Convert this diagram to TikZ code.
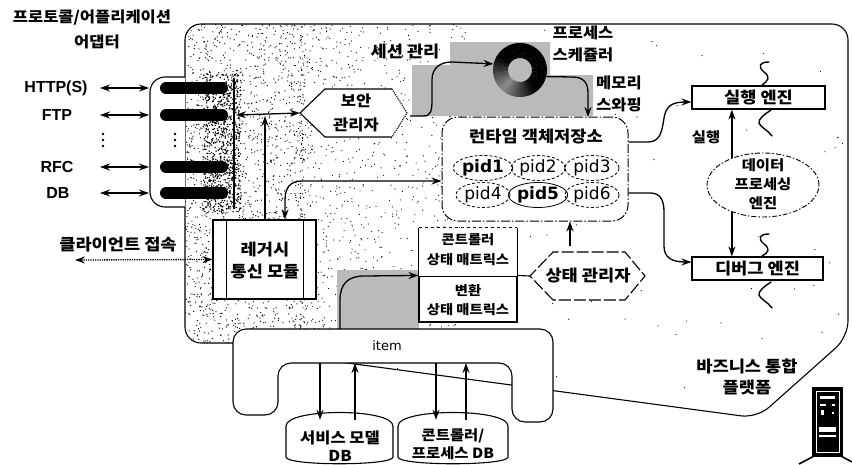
\documentclass[tikz,border=0pt]{standalone}
\usepackage{fontspec}
\setmainfont{Liberation Sans}
\newfontfamily\kr{Noto Sans CJK KR}[FakeStretch=1.1]
\newfontfamily\dv{DejaVu Sans}
\usetikzlibrary{arrows.meta,shapes.geometric,calc}

\begin{document}
\begin{tikzpicture}[x=1pt,y=-1pt,
  ko/.style 2 args={inner sep=0pt, align=center, font=\kr\bfseries\fontsize{#1}{#2}\selectfont},
  la/.style={inner sep=0pt, font=\bfseries\fontsize{16}{18}\selectfont},
  pidn/.style={ellipse, draw, line width=0.8pt, dash pattern=on 3pt off 2pt, minimum width=54pt, minimum height=25pt, inner sep=0pt, font=\dv\fontsize{17}{18}\selectfont},
  edge/.style={line width=1.1pt},
  conn/.style={line width=1.3pt, -{Stealth[length=10pt,width=7pt]}},
  dconn/.style={line width=1.3pt, {Stealth[length=10pt,width=7pt]}-{Stealth[length=10pt,width=7pt]}},
  halftone/.style={fill=black!27},
  squig/.style={line width=1.4pt, line cap=round}
]
\useasboundingbox (0,0) rectangle (852,464);

% ---------- stippled interior of the platform ----------
\pgfmathsetseed{4242}
\begin{scope}
  \clip[rounded corners=15] (185,24) -- (848,24) -- (848,337) -- (757,418) -- (340,362) -- (233,343) -- (185,343) -- cycle;
  \foreach \i in {1,...,1500}{
    \pgfmathsetmacro\sx{185+120*rnd}
    \pgfmathsetmacro\sy{24+322*rnd}
    \fill (\sx,\sy) circle[radius=0.65pt];
  }
  \foreach \i in {1,...,900}{
    \pgfmathsetmacro\sx{300+170*rnd^1.6}
    \pgfmathsetmacro\sy{24+320*rnd}
    \fill (\sx,\sy) circle[radius=0.6pt];
  }
  \foreach \i in {1,...,140}{
    \pgfmathsetmacro\sx{185+660*rnd}
    \pgfmathsetmacro\sy{24+390*rnd}
    \fill (\sx,\sy) circle[radius=0.6pt];
  }
  % ink around the adapter bus
  \foreach \i in {1,...,800}{
    \pgfmathsetmacro\sx{203+38*rnd}
    \pgfmathsetmacro\sy{74+138*rnd}
    \fill (\sx,\sy) circle[radius=0.8pt];
  }
\end{scope}

% ---------- halftone areas ----------
\fill[halftone] (412,65) -- (450,65) -- (450,42) -- (550,42) -- (550,75) -- (593,75) -- (593,116) -- (412,116) -- cycle;
\fill[halftone] (337,270) -- (419,270) -- (419,330) -- (337,330) -- cycle;

% ---------- platform outline ----------
\draw[edge, rounded corners=16] (233,343) -- (185,343) -- (185,24) -- (848,24) -- (848,337) -- (757,418) -- (340,362);

% ---------- item bus and databases ----------
\draw[edge, fill=white, rounded corners=13] (233,380) -- (233,329) -- (553,329) -- (553,422) -- (512,422) -- (512,363) -- (278,363) -- (278,415) -- (233,415) -- cycle;
\node[inner sep=0pt, font=\dv\fontsize{13}{15}\selectfont] (item) at (387,346) {item};

\draw[edge, fill=white] (286,426) .. controls (286,408) and (393,408) .. (393,426) -- (393,457) .. controls (393,466) and (286,466) .. (286,457) -- cycle;
\draw[edge, fill=white] (398,426) .. controls (398,408) and (508,408) .. (508,426) -- (508,457) .. controls (508,466) and (398,466) .. (398,457) -- cycle;
\node[minimum width=107pt, minimum height=44pt, inner sep=0pt] (db1) at (339.5,442) {};
\node[minimum width=110pt, minimum height=44pt, inner sep=0pt] (db2) at (453,442) {};
\node[ko={15}{18}] at (340,446) {서비스 모델\\DB};
\node[ko={14}{18}] at (453,444) {콘트롤러/\\프로세스 DB};

\coordinate (b1) at (320,363);
\coordinate (b2) at (355,363);
\coordinate (b3) at (436,363);
\coordinate (b4) at (466,363);
\draw[conn] (b1) -- (b1 |- db1.north);
\draw[conn] (b2 |- db1.north) -- (b2);
\draw[conn] (b3) -- (b3 |- db2.north);
\draw[conn] (b4 |- db2.north) -- (b4);

% ---------- protocol / application adapter ----------
\node[ko={15}{18}] (title1) at (92,18) {프로토콜/어플리케이션};
\node[ko={15}{18}] (title2) at (97,42) {어댑터};

\draw[edge, fill=white, rounded corners=15] (185,77) -- (150,77) -- (150,207) -- (185,207);
\foreach \yy in {88,115,167,193}{
  \draw[line width=12pt, line cap=round] (166,\yy) -- (222,\yy);
}
\draw[line width=2.6pt] (234,78) -- (234,209);
\foreach \yy in {134,140,146}{
  \fill (175,\yy) circle[radius=1.3pt];
  \fill (103,\yy) circle[radius=1.3pt];
}

\node[la] (http) at (56,88) {HTTP(S)};
\node[la] (ftp) at (57,115) {FTP};
\node[la] (rfc) at (57,167) {RFC};
\node[la] (dbl) at (58,193) {DB};
\foreach \nm/\yy in {h/88,f/115,r/167,d/193}{
  \coordinate (\nm0) at (100,\yy);
  \coordinate (\nm1) at (149,\yy);
  \draw[dconn] (\nm0) -- (\nm1);
}

% ---------- security manager ----------
\fill[white] (392,89) -- (325,89) -- (300,113) -- (325,137) -- (392,137) -- (407,113) -- cycle;
\draw[edge] (392,89) -- (325,89) -- (300,113) -- (325,137) -- (392,137);
\draw[edge, densely dotted] (392,89) -- (407,113) -- (392,137);
\node[ko={15}{24}] (sec) at (356,113) {보안\\관리자};
\coordinate (secL) at (300,113);
\coordinate (bus) at (236,115);
\draw[dconn] (bus) -- (secL);

% ---------- legacy communication module ----------
\node[draw, edge, fill=white, minimum width=103pt, minimum height=79pt, inner sep=0pt] (leg) at (264.5,259.5) {};
\draw[edge] ([xshift=14pt]leg.north west) -- ([xshift=14pt]leg.south west);
\draw[edge] ([xshift=-13pt]leg.north east) -- ([xshift=-13pt]leg.south east);
\node[ko={16}{22}] at (265,261) {레거시\\통신 모듈};
\coordinate (j1) at (265,116);
\draw[conn] (leg.north -| j1) -- (j1);

\node[ko={16}{20}] (cli) at (118,245) {클라이언트 접속};
\coordinate (cl0) at (75,260);
\draw[dconn, densely dotted] (cl0) -- (leg.west);

% ---------- process scheduler ----------
\coordinate (ring) at (520,70);
\node[circle, minimum size=54pt, inner sep=0pt] (rg) at (ring) {};
% thick ring, black on the upper right, fading to grey on the lower left
\foreach \a in {0,6,...,354}{
  \pgfmathsetmacro\cc{ifthenelse(abs(\a-225)<80, 100-55*(1-abs(\a-225)/80), 100)}
  \fill[black!\cc] ($(ring)+(-\a:27)$) -- ($(ring)+(-\a-6.6:27)$) -- ($(ring)+(-\a-6.6:12)$) -- ($(ring)+(-\a:12)$) -- cycle;
}
\node[ko={15}{22}] (psch) at (583,44) {프로세스\\스케쥴러};
\node[ko={16}{20}] (sess) at (405,52) {세션 관리};
\node[ko={15}{22}] (swap) at (619,94) {메모리\\스와핑};

% ---------- runtime object store ----------
\node[draw, line width=1pt, dash pattern=on 9pt off 2pt on 1.5pt off 2pt, rounded corners=16, fill=white, minimum width=186pt, minimum height=104pt, inner sep=0pt] (rt) at (535,169) {};
\node[ko={16}{20}] (rtt) at (536,137) {런타임 객체저장소};
\node[pidn, font=\dv\bfseries\fontsize{17}{18}\selectfont] (p1) at (483,168) {pid1};
\node[pidn] (p2) at (538,168) {pid2};
\node[pidn] (p3) at (592,168) {pid3};
\node[pidn] (p4) at (483,195) {pid4};
\node[pidn, dash pattern=, font=\dv\bfseries\fontsize{17}{18}\selectfont] (p5) at (538,195) {pid5};
\node[pidn] (p6) at (592,195) {pid6};

\draw[conn] (410,116) -- (424,116) .. controls (431,116) and (432,110) .. (432,100) -- (432,80) .. controls (432,68) and (440,62) .. (452,62) -- (rg.167);
\draw[conn] (rg.-14) -- (572,77) .. controls (584,77) and (588,83) .. (588,93) -- (588,117);
\draw[dconn] (rt.west |- 0,181) -- (302,181) .. controls (290,181) and (285,188) .. (285,200) -- (leg.north -| 285,0);

% ---------- engines ----------
\node[draw, edge, fill=white, minimum width=133pt, minimum height=23pt, inner sep=0pt, ko={16}{20}] (ex) at (758.5,97.5) {실행 엔진};
\node[draw, edge, fill=white, minimum width=131pt, minimum height=23pt, inner sep=0pt, ko={16}{20}] (dbg) at (757.5,268.5) {디버그 엔진};
\node[ellipse, draw, line width=0.9pt, dash pattern=on 5pt off 2pt on 1.5pt off 2pt, fill=white, minimum width=112pt, minimum height=64pt, inner sep=0pt] (dp) at (763,185) {};
\node[ko={14}{19}] at (763,184) {데이터\\프로세싱\\엔진};
\node[ko={14}{18}] (exl) at (706,137) {실행};

\draw[conn] (dp.139) -- (dp.139 |- ex.south);
\draw[conn] (dp.-139) -- (dp.-139 |- dbg.north);

\draw[conn] (rt.east |- 0,142) -- (648,142) .. controls (661,142) and (662,130) .. (664,118) .. controls (666,106) and (672,102) .. (ex.west |- 0,102);
\draw[conn] (rt.east |- 0,193) -- (650,193) .. controls (661,193) and (664,201) .. (664,212) -- (664,246) .. controls (664,257) and (671,262) .. (dbg.west |- 0,262);

\draw[squig] (769,62) .. controls (760,62) and (757,66) .. (764,72) .. controls (771,77) and (768,81) .. (762,85);
\draw[squig] (771,110) .. controls (765,114) and (758,119) .. (759,123) .. controls (760,127) and (768,130) .. (772,136);
\draw[squig] (769,234) .. controls (760,234) and (757,238) .. (764,244) .. controls (771,249) and (768,253) .. (762,256);
\draw[squig] (771,282) .. controls (765,286) and (758,291) .. (759,295) .. controls (760,299) and (768,302) .. (772,308);

% ---------- state matrices and state manager ----------
\node[minimum width=98pt, minimum height=48pt, inner sep=0pt] (matT) at (468,252) {};
\node[draw, edge, fill=white, minimum width=98pt, minimum height=46pt, inner sep=0pt] (matB) at (468,299) {};
\fill[white] (matT.north west) rectangle (matT.south east);
\draw[edge] (matT.south west) -- (matT.north west);
\draw[edge, dashed] (matT.north west) -- (matT.north east);
\draw[edge] (matT.north east) -- (matT.south east);
\node[ko={13}{20}] at (468,250) {콘트롤러\\상태 매트릭스};
\node[ko={13}{19}] at (468,300) {변환\\상태 매트릭스};

\fill[white] (553,300) -- (530,276) -- (553,252) -- (625,252) -- (645,276) -- (625,300) -- cycle;
\draw[edge, dash pattern=on 12pt off 3pt] (553,300) -- (530,276) -- (553,252) -- (625,252) -- (645,276) -- (625,300) -- cycle;
\node[ko={16}{20}] (sm) at (588,276) {상태 관리자};
\coordinate (smL) at (530,276);
\coordinate (smT) at (570,246);
\draw[edge] (matB.north east) -- (smL);
\draw[conn] (smT) -- (rt.south -| smT);

\coordinate (it1) at (340,329);
\draw[conn] (it1) -- (340,300) .. controls (340,284) and (348,276) .. (364,276) -- (matB.north west);

% ---------- platform label ----------
\node[ko={16}{21}] (plat) at (747,377) {바즈니스 통합\\플랫폼};

% ---------- server ----------
\fill (812,387) rectangle (843,457);
\draw[white, line width=0.8pt] (816,391) rectangle (839,452);
\fill[white] (820,396) rectangle (835,399);
\fill[white] (820,404) rectangle (826,405.5);
\fill[white] (832,404) rectangle (835,405.5);
\fill[white] (821,410) rectangle (824,415);
\fill[white] (832,412) rectangle (834,414);
\fill[white] (819,427) rectangle (836,432);
\fill[white] (819,435) rectangle (836,436.5);
\draw[line width=1.6pt] (816,455) -- (799,464);
\draw[line width=1.6pt] (839,455) -- (852,462);
\end{tikzpicture}
\end{document}
